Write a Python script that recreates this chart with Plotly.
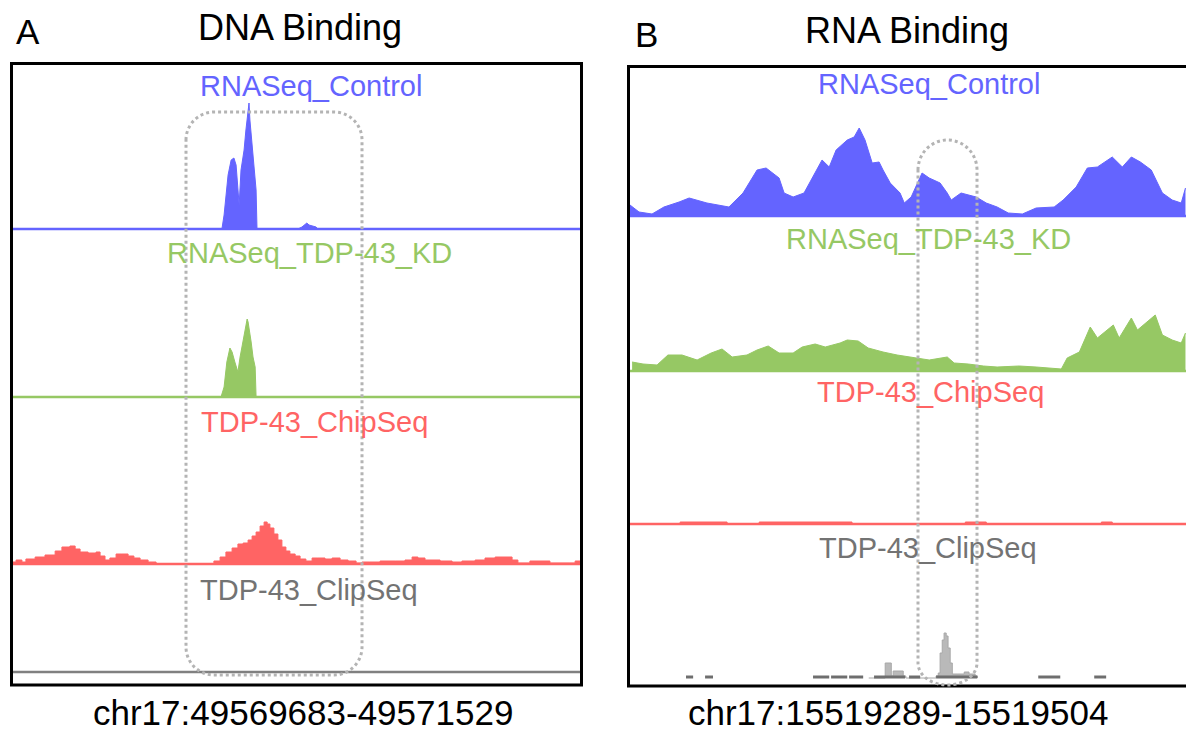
import plotly.graph_objects as go

# ---------------- data ----------------
# Panel A: chr17:49569683-49571529 (positions = bp offset from region start)
a_ctrl_pos = [0, 679, 686, 699, 709, 718, 725, 735, 741, 751, 757, 764, 767, 770, 777, 783, 790, 793,
              926, 939, 949, 955, 962, 985, 991, 1846]
a_ctrl_val = [0, 0, 14, 54, 69, 71, 64, 24, 59, 79, 99, 124, 126, 109, 84, 69, 39, 0,
              0, 2, 4, 6, 4, 2, 0, 0]

a_kd_pos = [0, 676, 686, 695, 705, 712, 721, 731, 738, 747, 754, 761, 764, 767, 774, 780, 787, 790, 1846]
a_kd_val = [0, 0, 10, 35, 49, 45, 35, 25, 40, 55, 65, 78, 75, 70, 55, 40, 30, 0, 0]

a_chip_pos = [0, 10, 29, 42, 72, 104, 137, 159, 185, 202, 218, 244, 270, 283, 299, 315, 335, 354, 374,
              393, 413, 439, 465, 640, 653, 673, 692, 712, 731, 748, 764, 777, 790, 803, 816, 826, 835,
              848, 861, 874, 887, 900, 917, 933, 952, 972, 991, 1014, 1037, 1063, 1089, 1115, 1134,
              1160, 1193, 1242, 1274, 1297, 1316, 1339, 1388, 1427, 1459, 1502, 1534, 1567, 1599,
              1622, 1641, 1664, 1680, 1729, 1745, 1810, 1827, 1846]
a_chip_val = [2, 4, 2, 5, 7, 9, 13, 17, 18, 15, 12, 11, 12, 8, 4, 6, 10, 10, 8,
              6, 4, 2, 0, 0, 3, 7, 12, 16, 20, 21, 24, 28, 32, 38, 42, 40, 36,
              30, 24, 17, 13, 10, 8, 5, 3, 6, 6, 5, 6, 4, 3, 1, 2,
              2, 3, 3, 4, 7, 6, 4, 3, 2, 3, 4, 6, 7, 7,
              4, 1, 1, 3, 3, 1, 1, 3, 3]

a_clip_pos = [0, 1846]
a_clip_val = [0, 0]

# Panel B: chr17:15519289-15519504 (positions = bp offset from region start)
b_ctrl_pos = [0.0, 3.4, 8.3, 12.8, 18.5, 22.3, 29.0, 37.3, 42.6, 47.9, 51.3, 56.2, 58.1, 61.5, 65.6,
              69.8, 72.4, 75.1, 77.7, 81.9, 84.5, 86.4, 88.6, 91.3, 93.9, 95.4, 98.1, 101.8, 103.4,
              106.0, 110.1, 112.8, 116.9, 119.6, 121.1, 124.8, 130.5, 134.3, 138.4, 142.6, 147.9,
              153.1, 159.9, 163.3, 168.2, 172.4, 176.2, 181.8, 185.6, 189.0, 192.4, 196.5, 200.7,
              204.4, 207.8, 209.4]
b_ctrl_val = [11, 4, 2, 9, 14, 18, 13, 9, 23, 46, 48, 38, 23, 19, 23,
              43, 56, 49, 66, 76, 79, 88, 76, 53, 54, 46, 33, 23, 13,
              19, 43, 38, 33, 23, 16, 23, 19, 13, 9, 3, 2,
              8, 9, 16, 29, 48, 49, 59, 49, 59, 54, 46, 23,
              16, 13, 28]

b_kd_pos = [0.8, 4.9, 10.2, 14.3, 19.6, 25.3, 30.6, 34.7, 38.5, 44.1, 47.9, 52.1, 56.2, 61.5, 64.9,
            69.8, 73.6, 79.2, 81.9, 86.0, 89.8, 95.4, 100.7, 107.5, 112.8, 119.6, 122.2, 127.5,
            133.2, 138.4, 146.7, 153.1, 162.6, 164.8, 169.4, 173.5, 176.2, 182.2, 184.4, 189.0,
            191.3, 198.0, 200.7, 204.4, 207.8, 209.4]
b_kd_val = [9, 7, 6, 16, 16, 11, 18, 22, 14, 16, 21, 25, 18, 18, 24,
            27, 24, 28, 31, 30, 23, 19, 16, 13, 11, 14, 8, 7,
            5, 4, 5, 4, 2, 13, 19, 44, 33, 46, 33, 53,
            41, 56, 36, 31, 28, 38]

b_chip_pos = [0, 18.9, 36.6, 48.7, 83.7, 126.4, 134.3, 177.7, 181.8, 209.6]
b_chip_val = [0, 2, 0, 2, 0, 2, 0, 2, 0, 0]

b_clip_pos = [90, 96.2, 98.5, 99.2, 103.0, 104, 115.4, 116.2, 116.9, 117.7, 118.4, 119.2, 119.9,
              120.7, 121.5, 123.3, 126.0, 127.8, 130.1, 131]
b_clip_val = [0, 15, 2, 7, 2, 0, 2, 5, 25, 38, 45, 42, 30, 15, 4, 4, 6, 4, 2, 0]
b_clip_read_start = [21.1, 28.3, 69.0, 75.8, 82.6, 92.0, 105.2, 115.4, 153.9, 175.0]
b_clip_read_end = [23.8, 31.3, 75.1, 81.9, 87.9, 103.7, 109.4, 130.9, 162.2, 179.5]

track_names = ["RNASeq_Control", "RNASeq_TDP-43_KD", "TDP-43_ChipSeq", "TDP-43_ClipSeq"]
panel_titles = ["DNA Binding", "RNA Binding"]
panel_letters = ["A", "B"]
regions = ["chr17:49569683-49571529", "chr17:15519289-15519504"]

# ---------------- styling / layout helpers ----------------
W, H = 1186, 734
BLUE, GREEN, RED, GRAY = "#6464ff", "#96c864", "#ff6464", "#737373"
track_colors = [BLUE, GREEN, RED, GRAY]
FONT = "Liberation Sans, Arial, sans-serif"


def fx(x):
    return x / W


def fy(y):
    return 1 - y / H


def pt(x, y):
    return f"{fx(x):.5f},{fy(y):.5f}"


def rounded_rect(x0, y0, x1, y1, rx, ryt, ryb):
    k = 0.5523
    return (f"M {pt(x0, y0 + ryt)} "
            f"C {pt(x0, y0 + ryt - k * ryt)} {pt(x0 + rx - k * rx, y0)} {pt(x0 + rx, y0)} "
            f"L {pt(x1 - rx, y0)} "
            f"C {pt(x1 - rx + k * rx, y0)} {pt(x1, y0 + ryt - k * ryt)} {pt(x1, y0 + ryt)} "
            f"L {pt(x1, y1 - ryb)} "
            f"C {pt(x1, y1 - ryb + k * ryb)} {pt(x1 - rx + k * rx, y1)} {pt(x1 - rx, y1)} "
            f"L {pt(x0 + rx, y1)} "
            f"C {pt(x0 + rx - k * rx, y1)} {pt(x0, y1 - ryb + k * ryb)} {pt(x0, y1 - ryb)} Z")


fig = go.Figure()

# track geometry (pixels): panel x extents, baselines
panelA_x = (13, 581)
panelB_x = (630, 1186)
A_base = [229, 397, 564, 672]
B_base = [216, 371, 524, 678]
TRACK_H = 130
PAD = 4
A_range = [0, 1846]
B_range = [0, 209.6]

layout_axes = {}
shapes = []
annotations = []
idx = 0


def add_axes(xpx, base, xrange):
    global idx
    idx += 1
    n = "" if idx == 1 else str(idx)
    layout_axes[f"xaxis{n}"] = dict(domain=[fx(xpx[0]), fx(xpx[1])], range=xrange, visible=False,
                                    anchor=f"y{n}", fixedrange=True)
    layout_axes[f"yaxis{n}"] = dict(domain=[fy(base + PAD), fy(base - TRACK_H)],
                                    range=[-PAD, TRACK_H], visible=False, anchor=f"x{n}",
                                    fixedrange=True)
    return f"x{n}", f"y{n}"


def baseline(xr, yr, color, width=2.5):
    shapes.append(dict(type="line", xref=f"{xr} domain", yref=yr, x0=0, x1=1, y0=0, y1=0,
                       line=dict(color=color, width=width), layer="above"))


def signal(xr, yr, xs, ys, color, shape="linear"):
    fig.add_trace(go.Scatter(x=xs, y=ys, xaxis=xr, yaxis=yr, mode="lines", fill="tozeroy",
                             fillcolor=color, line=dict(color=color, width=1, shape=shape),
                             hoverinfo="skip", showlegend=False))


# Panel A
xr, yr = add_axes(panelA_x, A_base[0], A_range)
signal(xr, yr, a_ctrl_pos, a_ctrl_val, BLUE)
baseline(xr, yr, BLUE)
xr, yr = add_axes(panelA_x, A_base[1], A_range)
signal(xr, yr, a_kd_pos, a_kd_val, GREEN)
baseline(xr, yr, GREEN)
xr, yr = add_axes(panelA_x, A_base[2], A_range)
signal(xr, yr, a_chip_pos, a_chip_val, RED, shape="hv")
baseline(xr, yr, RED)
xr, yr = add_axes(panelA_x, A_base[3], A_range)
fig.add_trace(go.Scatter(x=a_clip_pos, y=a_clip_val, xaxis=xr, yaxis=yr, mode="lines",
                         line=dict(color="#808080", width=2.5), hoverinfo="skip", showlegend=False))

# Panel B
xr, yr = add_axes(panelB_x, B_base[0], B_range)
signal(xr, yr, b_ctrl_pos, b_ctrl_val, BLUE)
baseline(xr, yr, BLUE)
xr, yr = add_axes(panelB_x, B_base[1], B_range)
signal(xr, yr, b_kd_pos, b_kd_val, GREEN)
baseline(xr, yr, GREEN)
xr, yr = add_axes(panelB_x, B_base[2], B_range)
signal(xr, yr, b_chip_pos, b_chip_val, RED, shape="hv")
baseline(xr, yr, RED)
xr, yr = add_axes(panelB_x, B_base[3], B_range)
fig.add_trace(go.Scatter(x=b_clip_pos, y=b_clip_val, xaxis=xr, yaxis=yr, mode="lines",
                         fill="tozeroy", fillcolor="#b9b9b9",
                         line=dict(color="#a8a8a8", width=1, shape="hv"),
                         hoverinfo="skip", showlegend=False))
rx_, ry_ = [], []
for s, e in zip(b_clip_read_start, b_clip_read_end):
    rx_ += [s, e, None]
    ry_ += [1, 1, None]
fig.add_trace(go.Scatter(x=rx_, y=ry_, xaxis=xr, yaxis=yr, mode="lines",
                         line=dict(color="#6e6e6e", width=3), hoverinfo="skip", showlegend=False))

# panel frames
shapes.append(dict(type="rect", xref="paper", yref="paper", x0=fx(11.5), x1=fx(581.5), y0=fy(685),
                   y1=fy(63.5), line=dict(color="black", width=3), layer="above"))
shapes.append(dict(type="rect", xref="paper", yref="paper", x0=fx(628.5), x1=fx(1210), y0=fy(686),
                   y1=fy(66.5), line=dict(color="black", width=3), layer="above"))

# dotted highlight boxes
shapes.append(dict(type="path", xref="paper", yref="paper",
                   path=rounded_rect(186, 112, 362, 675, 28, 28, 28),
                   line=dict(color="#b4b4b4", width=3, dash="3px,3px"), layer="above"))
shapes.append(dict(type="path", xref="paper", yref="paper",
                   path=rounded_rect(918, 140, 977, 685, 29.5, 30, 22),
                   line=dict(color="#b4b4b4", width=3, dash="3px,3px"), layer="above"))

# track labels
A_lab = [(311, 86), (309, 253), (314, 422), (309, 590)]
B_lab = [(929, 84), (928, 239), (930, 392), (928, 548)]
for labs in (A_lab, B_lab):
    for (x, y), name, col in zip(labs, track_names, track_colors):
        annotations.append(dict(x=fx(x), y=fy(y), xref="paper", yref="paper", text=name,
                                showarrow=False, xanchor="center", yanchor="middle",
                                font=dict(family=FONT, size=29, color=col)))

# panel letters / titles / regions
for (x, y), t in zip([(28, 32), (646, 34)], panel_letters):
    annotations.append(dict(x=fx(x), y=fy(y), xref="paper", yref="paper", text=t, showarrow=False,
                            xanchor="center", yanchor="middle",
                            font=dict(family=FONT, size=35, color="black")))
for (x, y), t in zip([(300, 27), (907, 30)], panel_titles):
    annotations.append(dict(x=fx(x), y=fy(y), xref="paper", yref="paper", text=t, showarrow=False,
                            xanchor="center", yanchor="middle",
                            font=dict(family=FONT, size=36, color="black")))
for x, t in zip([303, 898], regions):
    annotations.append(dict(x=fx(x), y=0, xref="paper", yref="paper", text=t, showarrow=False,
                            xanchor="center", yanchor="bottom",
                            font=dict(family=FONT, size=35, color="black")))

fig.update_layout(width=W, height=H, margin=dict(l=0, r=0, t=0, b=0), paper_bgcolor="white",
                  plot_bgcolor="rgba(0,0,0,0)", showlegend=False, shapes=shapes,
                  annotations=annotations, **layout_axes)

fig.write_html("out.html")
